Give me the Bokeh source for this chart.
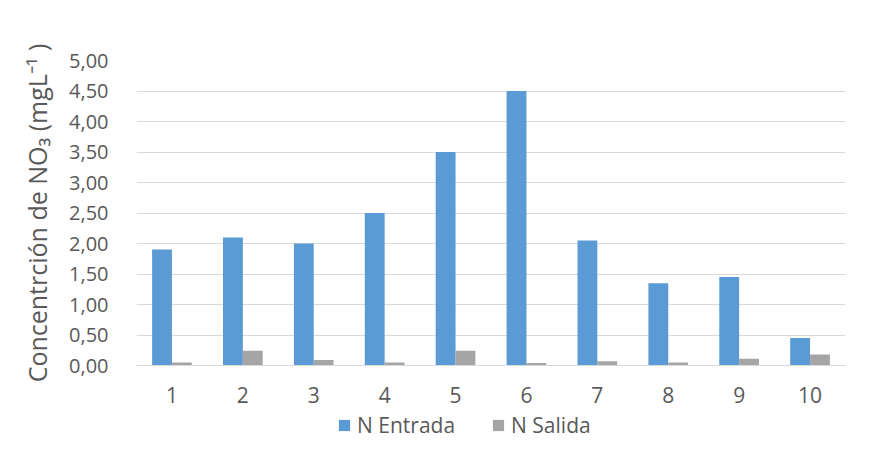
from bokeh.plotting import figure
from bokeh.models import (ColumnDataSource, FactorRange, Range1d, Legend, LegendItem,
                          CustomJSTickFormatter, FixedTicker)
from bokeh.layouts import column
from bokeh.transform import dodge
from bokeh.embed import file_html
from bokeh.resources import INLINE

categories = ["1", "2", "3", "4", "5", "6", "7", "8", "9", "10"]
n_entrada = [1.90, 2.10, 2.00, 2.50, 3.50, 4.50, 2.05, 1.35, 1.45, 0.45]
n_salida = [0.05, 0.24, 0.09, 0.05, 0.24, 0.04, 0.07, 0.05, 0.11, 0.18]
y_ticks = [0.0, 0.5, 1.0, 1.5, 2.0, 2.5, 3.0, 3.5, 4.0, 4.5, 5.0]
series_names = ["N Entrada", "N Salida"]
series_colors = ["#5b9bd5", "#a5a5a5"]

src = ColumnDataSource(dict(cat=categories, ent=n_entrada, sal=n_salida))

FONT = "Open Sans"
TXT = "#595959"

p = figure(frame_width=709, frame_height=305, output_backend="svg", toolbar_location=None,
           x_range=FactorRange(*categories, range_padding=0, factor_padding=0),
           y_range=Range1d(0, 5.0),
           min_border_left=136, min_border_right=29, min_border_top=60, min_border_bottom=44)
p.outline_line_color = None
p.background_fill_color = "white"
p.border_fill_color = "white"

p.vbar(x=dodge("cat", -0.14, range=p.x_range), top="ent", width=0.28, source=src,
       fill_color=series_colors[0], line_color=None)
p.vbar(x=dodge("cat", 0.14, range=p.x_range), top="sal", width=0.28, source=src,
       fill_color=series_colors[1], line_color=None)

p.xgrid.grid_line_color = None
p.ygrid.grid_line_color = "#d9d9d9"
p.ygrid.grid_line_width = 1
p.yaxis.ticker = FixedTicker(ticks=y_ticks)
p.yaxis.formatter = CustomJSTickFormatter(code="return tick.toFixed(2).replace('.', ',');")
p.yaxis.axis_line_color = None
p.yaxis.major_tick_line_color = None
p.yaxis.minor_tick_line_color = None
p.yaxis.major_label_text_font = FONT
p.yaxis.major_label_text_font_size = "20px"
p.yaxis.major_label_text_color = TXT
p.yaxis.major_label_standoff = 22
p.yaxis.axis_label = "Concentrción de NO\u2083 (mgL\u207b\u00b9 )"
p.yaxis.axis_label_text_font = FONT
p.yaxis.axis_label_text_font_style = "normal"
p.yaxis.axis_label_text_font_size = "25px"
p.yaxis.axis_label_text_color = TXT
p.yaxis.axis_label_standoff = 12

p.xaxis.axis_line_color = "#d9d9d9"
p.xaxis.major_tick_line_color = None
p.xaxis.minor_tick_line_color = None
p.xaxis.major_label_text_font = FONT
p.xaxis.major_label_text_font_size = "21px"
p.xaxis.major_label_text_color = TXT
p.xaxis.major_label_standoff = 15

# legend strip below the chart (hidden NaN glyphs only feed the legend swatches)
lg = figure(width=874, height=50, output_backend="svg", toolbar_location=None,
            x_range=Range1d(0, 1), y_range=Range1d(0, 1),
            min_border=0, x_axis_type=None, y_axis_type=None)
lg.outline_line_color = None
lg.grid.grid_line_color = None
lg_src = ColumnDataSource(dict(x=[float("nan")], top=[float("nan")]))
items = []
for name, col in zip(series_names, series_colors):
    r = lg.vbar(x="x", top="top", width=0.1, source=lg_src, fill_color=col, line_color=None)
    items.append(LegendItem(label=name, renderers=[r]))

legend = Legend(items=items, orientation="horizontal", location=(201, 20),
                label_text_font=FONT, label_text_font_size="21px", label_text_color=TXT,
                glyph_width=14, glyph_height=14, label_standoff=6, spacing=36,
                padding=0, margin=0,
                border_line_color=None, background_fill_alpha=0)
lg.add_layout(legend, "center")

layout = column(p, lg, spacing=0)
open("out.html", "w").write(file_html(layout, INLINE))
